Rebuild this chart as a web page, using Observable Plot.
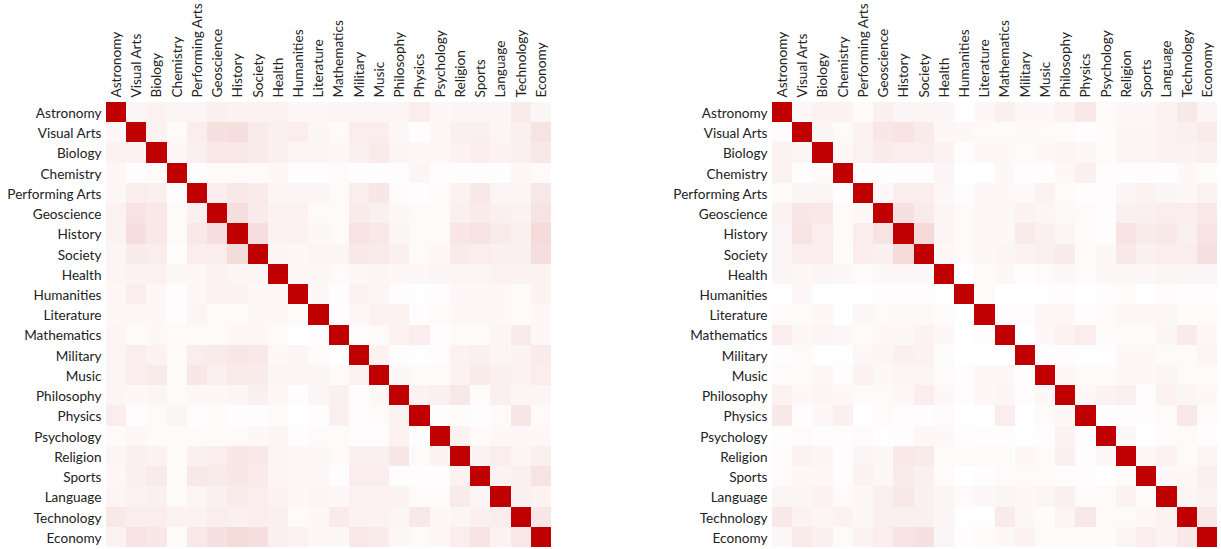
<!DOCTYPE html>
<html>
<head>
<meta charset="utf-8">
<script src="https://cdn.jsdelivr.net/npm/d3@7"></script>
<script src="https://cdn.jsdelivr.net/npm/@observablehq/plot@0.6"></script>
<style>
html,body{margin:0;padding:0;background:#fff;overflow:hidden}
#row{display:flex;width:1221px;height:549px}
svg{display:block}
</style>
</head>
<body>
<div id="row"></div>
<script>
const categories = ["Astronomy","Visual Arts","Biology","Chemistry","Performing Arts","Geoscience","History","Society","Health","Humanities","Literature","Mathematics","Military","Music","Philosophy","Physics","Psychology","Religion","Sports","Language","Technology","Economy"];

const leftValues = [
[100,4,5,4,4,6,5,5,5,3,3,4,4,4,4,7,3,4,4,4,8,4],
[3,100,5,2,7,12,13,8,6,7,4,2,7,7,3,1,3,6,6,4,6,11],
[5,5,100,3,6,9,9,8,6,4,4,3,6,8,4,3,3,5,7,5,6,9],
[3,1,2,100,1,2,2,2,3,1,1,2,1,1,1,4,1,1,1,1,3,2],
[3,7,6,1,100,7,9,8,4,4,4,2,7,10,2,1,2,5,9,4,4,9],
[5,11,9,2,6,100,13,8,5,5,2,2,8,6,3,2,2,6,8,6,5,11],
[5,13,9,2,9,13,100,13,5,5,3,2,11,9,4,2,2,10,11,8,6,14],
[4,8,7,1,7,7,14,100,4,3,4,4,9,8,6,2,3,8,7,6,6,13],
[4,5,5,3,3,5,4,4,100,3,3,2,3,4,3,3,4,4,4,5,5,5],
[3,7,3,1,3,5,5,3,3,100,3,1,5,4,1,0.5,1,3,3,3,2,5],
[3,3,3,1,4,2,2,3,3,2,100,1,3,5,5,1,2,3,3,3,2,3],
[4,2,3,2,2,2,3,3,2,0,1,100,1,2,5,7,1,2,2,4,8,3],
[4,7,5,2,7,8,10,9,3,4,2,0,100,5,1,0.5,1,5,6,4,5,8],
[4,7,8,2,10,6,8,8,4,4,4,2,5,100,3,2,2,5,8,6,5,7],
[4,3,4,2,3,3,4,6,3,1,4,6,1,3,100,5,6,9,1.5,6,4,4],
[7,1,2,4,1,2,1,1,2,0,1,6,1,2,5,100,1,1.5,1,2,10,2],
[2,3,2,2,2,2,2,3,4,1,2,2,1,1,5,1,100,5,2,3,3,3],
[4,6,5,2,6,7,10,9,4,3,3,2,6,6,10,2,5,100,5,7,4,6],
[3,6,8,2,9,8,10,8,4,3,3,1,7,7,1,1,1,5,100,5,6,11],
[4,5,6,2,4,6,8,7,5,3,4,3,5,5,5,2,2,8,4,100,6,5],
[9,7,7,5,5,7,6,7,6,2,3,8,5,5,4,9,3,4,6,7,100,10],
[5,11,10,2,9,12,14,13,6,5,3,3,9,8,3,2,3,7,11,5,9,100]
];

const rightValues = [
[100,3,5,5,2,6,4,4,4,0.5,3,6,3,3,5,9,2,3,3,5,9,4],
[2,100,4,2,5,10,11,8,3,3,2,2,2.5,2,2,1,2,4,4,5,6,8],
[5,4,100,3,5,8,7,7,5,1,3,3,2,3,4,3,2,4,4,5,5,6],
[5,1,2,100,1,1,1,1,4,0,0,3,1,1,3,6,1,1,1,1,3,1.5],
[2,4,4,1,100,3,7,7,3,1,3,3,2.5,5,2,1,1,4,5,4,3,5],
[5,10,9,2,3,100,12,8,4,2,3,3,5,4,2.5,2,1,6,6,7,7,9],
[4,11,7,2,7,11,100,15,4,2,3,3,8,6,4,2,1,11,8,9,6,11],
[4,7,7,1.5,7,6,14,100,3,2,3,4,5,6,8,2,3,9,6,7,7,12],
[4,3,4,3,2,3,3,3,100,0.5,2,3,1,2,3,2,3,3,3,4,4,4],
[0.5,3,0.5,0,0.5,1,1,1,0.5,100,2,0,0,0.5,1,0,1,1.5,0,2,1,1],
[2,2,3,0.5,3,2,2.5,2.5,1.5,0.5,100,1,1,3,3,1,2,3,3,3.5,1.5,2],
[7,3,4,3,2,3,3,5,3,0,1,100,0,3,5,7,1.5,2,2,4,8,3],
[1,2,0.5,0.5,3,4,6,5,1.5,0,0,0,100,1,1,0.5,0.5,3,3,2,2,4],
[2,2,3,1,5,3,4,4,2,1,3,3,1,100,3,2,1.5,3,3,4,2,2],
[5,3,4,3,2,2,3,7,3,1,3,4,1,3,100,3,5,6,1,5,4,3],
[9,1,3,6,0.5,2,1,1,2,0,0.5,7,0,2,3,100,1,1,1,2,9,2],
[1,2,1,1,2,0.5,1,3,3,1,1,1,0.5,1,5,1,100,3,0,2,2,1],
[2,5,4,1,4,3,9,8,2,2,1.5,1.5,3,2,6,1,3,100,3,5,2,4],
[2,3,3,1,5,3,8,6,2,0,1,2,2,2,1,1,0,2,100,3,3,6],
[4,4,5,2,3,6,9,6,4,2,3,4,3,4,6,2,2,5,2,100,4,5],
[9,5,4,5,3,6,6,6,4,0.5,0.5,8,3,1.5,4,9,2,2,3,5,100,9],
[3,8,6,2,5,7,11,12,4,1,2,3,5,2,2,1.5,1.5,4,7,5,9,100]
];

const flatten = m => m.flatMap((row, i) => row.map((v, j) => ({row: categories[i], col: categories[j], v})));

function heatmap(values, width, marginLeft, marginRight) {
  return Plot.plot({
    width,
    height: 549,
    marginTop: 102,
    marginBottom: 2,
    marginLeft,
    marginRight,
    style: {fontFamily: "Lato", fontSize: "13.6px", color: "#222", background: "#fff"},
    x: {domain: categories, padding: 0, round: false, axis: "top", tickRotate: -90, tickSize: 0, tickPadding: 5, label: null},
    y: {domain: categories, padding: 0, round: false, axis: null},
    color: {type: "linear", domain: [0, 100], range: ["#ffffff", "#c00000"]},
    marks: [
      Plot.cell(flatten(values), {x: "col", y: "row", fill: "v", shapeRendering: "crispEdges"}),
      Plot.axisY({tickSize: 0, tickPadding: 5, label: null, dy: 1})
    ]
  });
}

const row = document.getElementById("row");
row.append(heatmap(leftValues, 665, 106, 114));
row.append(heatmap(rightValues, 556, 107, 4));
</script>
</body>
</html>
